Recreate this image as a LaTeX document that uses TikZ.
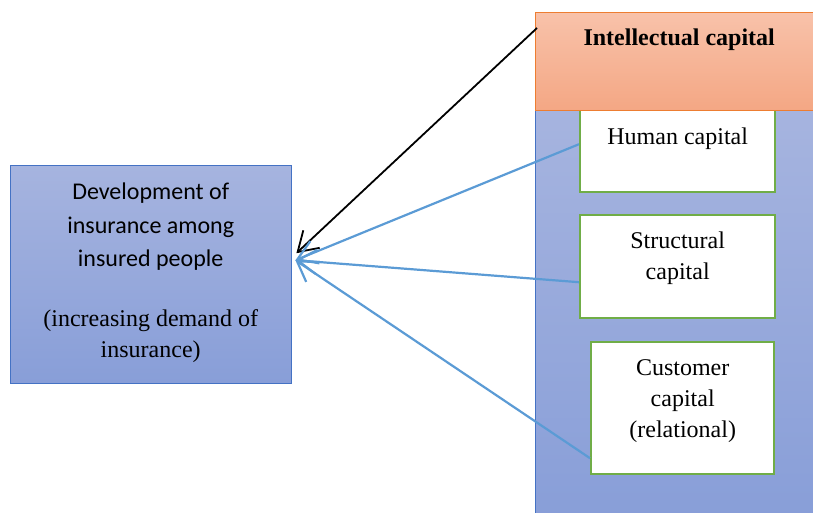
\documentclass[tikz,border=0pt]{standalone}
\usepackage{fontspec}
\setmainfont{Liberation Serif}
\setsansfont{Carlito}
\usepackage{tikz}
\usepackage{xcolor}
\usetikzlibrary{arrows.meta}
\definecolor{captop}{HTML}{F8C2AA}
\definecolor{capbottom}{HTML}{F4A784}
\definecolor{capedge}{HTML}{ED7D31}
\definecolor{coltop}{HTML}{A6B4DF}
\definecolor{colbottom}{HTML}{889ED8}
\definecolor{goaledge}{HTML}{4472C4}
\definecolor{partedge}{HTML}{70AD47}
\definecolor{linkblue}{HTML}{5B9BD5}
\tikzset{
    cap-box/.style = {draw=capedge, top color=captop, bottom color=capbottom, thin, rectangle, anchor=north west, inner sep=0pt, minimum width=278pt, minimum height=98pt, font=\fontsize{24}{31}\selectfont\bfseries},
    column-box/.style = {draw=goaledge, top color=coltop, bottom color=colbottom, thin, rectangle, anchor=north west, minimum width=280pt, minimum height=410pt},
    goal-box/.style = {draw=goaledge, top color=coltop, bottom color=colbottom, thin, rectangle, anchor=north west, inner sep=0pt, align=center, minimum width=281pt, minimum height=218pt, font=\fontsize{24}{33.5}\selectfont\sffamily},
    part-box/.style = {draw=partedge, fill=white, line width=2.4pt, rectangle, anchor=north west, inner sep=0pt, align=center, font=\fontsize{24}{31}\selectfont},
    link-arrow/.style = {draw=linkblue, line width=2.2pt, -{Straight Barb[length=19pt, width=24pt]}},
    main-arrow/.style = {draw=black, line width=1.8pt, -{Straight Barb[length=19pt, width=24pt]}},
}

\begin{document}
\begin{tikzpicture}[x=1pt, y=-1pt]

\node [column-box] (column) at (535,110) {};
\node [part-box, minimum width=195pt, minimum height=83pt, text depth=29.4pt] (human) at (579,108) {Human capital};
\node [part-box, minimum width=195pt, minimum height=103pt, text depth=22.4pt] (structural) at (579,214) {Structural\\ capital};
\node [part-box, minimum width=183pt, minimum height=132pt, text depth=20pt] (customer) at (590,341) {Customer\\ capital\\ (relational)};
\node [cap-box, text depth=48.3pt] (cap) at (535,12) {\hspace*{10pt}Intellectual capital};

\node [goal-box, text depth=8pt] (goal) at (10,165) {Development of\\ insurance among\\ insured people\\[26.5pt]
    {\rmfamily (increasing demand of}\\[-2.5pt] {\rmfamily insurance)}};

% arrow ends next to the goal box
\coordinate (tip) at ([xshift=4pt, yshift=14pt]goal.east);
\coordinate (black-tip) at ([xshift=5pt, yshift=21pt]goal.east);

\draw [main-arrow] ([xshift=2pt, yshift=-16pt]cap.north west) -- (black-tip);
\draw [link-arrow] ([yshift=6.5pt]human.west) -- (tip);
\draw [link-arrow] ([yshift=-15.5pt]structural.west) -- (tip);
\draw [link-arrow] ([yshift=-50pt]customer.west) -- (tip);

\pgfresetboundingbox
\useasboundingbox (0,0) rectangle (813,512);
\end{tikzpicture}
\end{document}
